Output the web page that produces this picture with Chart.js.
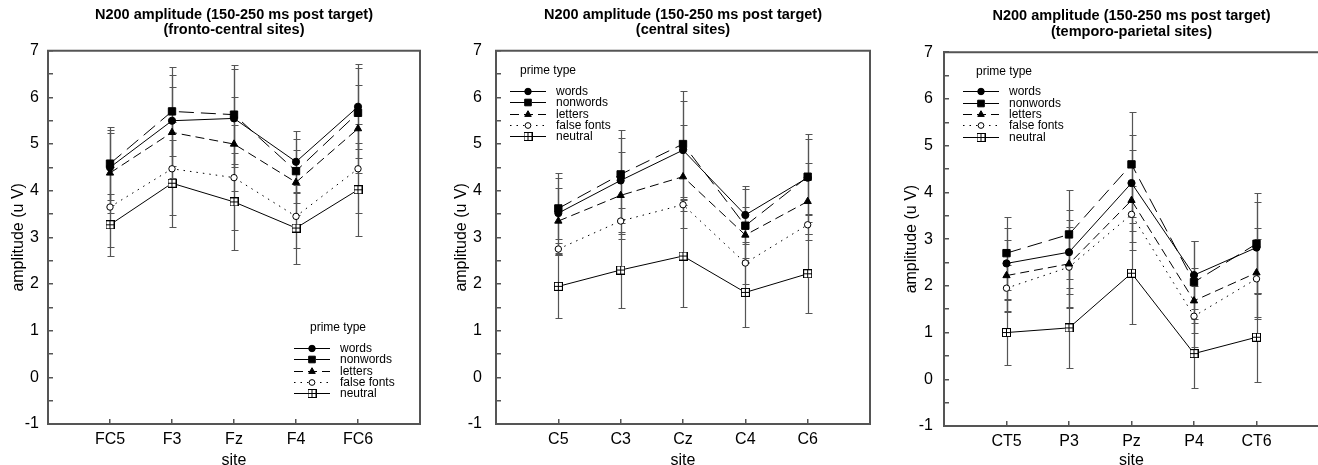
<!doctype html>
<html lang="en">
<head>
<meta charset="utf-8">
<title>N200 amplitude</title>
<script src="https://cdn.jsdelivr.net/npm/chart.js"></script>
<style>
    html, body { margin: 0; padding: 0; background: #fff; overflow: hidden; }
    .panel { position: absolute; top: 0; }
</style>
</head>
<body>
<canvas id="chartFC" class="panel" style="left:0px" width="440" height="465"></canvas>
<canvas id="chartC" class="panel" style="left:440px" width="438" height="465"></canvas>
<canvas id="chartTP" class="panel" style="left:878px" width="460" height="465"></canvas>
<script>
// series order: words, nonwords, letters, false fonts, neutral
const seriesNames = ['words', 'nonwords', 'letters', 'false fonts', 'neutral'];

// fronto-central sites
const fcSites = ['FC5', 'F3', 'Fz', 'F4', 'FC6'];
const fcWords = [4.50, 5.50, 5.55, 4.62, 5.80];
const fcNonwords = [4.58, 5.70, 5.63, 4.42, 5.67];
const fcLetters = [4.38, 5.25, 5.00, 4.18, 5.33];
const fcFalseFonts = [3.65, 4.47, 4.28, 3.45, 4.47];
const fcNeutral = [3.27, 4.16, 3.76, 3.20, 4.02];
const fcWordsErr = [0.80, 0.97, 1.05, 0.67, 0.91];
const fcNonwordsErr = [0.78, 0.96, 1.06, 0.68, 0.96];
const fcLettersErr = [0.85, 0.97, 1.00, 0.70, 0.94];
const fcFalseFontsErr = [0.85, 1.00, 1.12, 0.68, 0.95];
const fcNeutralErr = [0.67, 0.93, 1.04, 0.77, 1.00];

// central sites
const cSites = ['C5', 'C3', 'Cz', 'C4', 'C6'];
const cWords = [3.52, 4.22, 4.87, 3.48, 4.28];
const cNonwords = [3.62, 4.35, 5.00, 3.25, 4.30];
const cLetters = [3.35, 3.90, 4.30, 3.05, 3.77];
const cFalseFonts = [2.75, 3.35, 3.70, 2.45, 3.27];
const cNeutral = [1.95, 2.30, 2.60, 1.82, 2.22];
const cWordsErr = [0.85, 0.92, 1.06, 0.63, 0.94];
const cNonwordsErr = [0.65, 0.95, 1.13, 0.78, 0.80];
const cLettersErr = [0.70, 0.94, 1.10, 0.60, 0.83];
const cFalseFontsErr = [0.12, 0.28, 0.13, 0.45, 0.20];
const cNeutralErr = [0.67, 0.82, 1.09, 0.74, 0.85];

// temporo-parietal sites
const tpSites = ['CT5', 'P3', 'Pz', 'P4', 'CT6'];
const tpWords = [2.48, 2.72, 4.20, 2.23, 2.82];
const tpNonwords = [2.70, 3.10, 4.60, 2.08, 2.90];
const tpLetters = [2.22, 2.47, 3.83, 1.68, 2.28];
const tpFalseFonts = [1.95, 2.40, 3.53, 1.35, 2.15];
const tpNeutral = [1.00, 1.10, 2.27, 0.55, 0.90];
const tpWordsErr = [0.76, 0.90, 1.02, 0.72, 0.98];
const tpNonwordsErr = [0.78, 0.95, 1.13, 0.88, 1.08];
const tpLettersErr = [0.76, 0.94, 1.07, 0.70, 0.95];
const tpFalseFontsErr = [0.50, 0.85, 0.60, 0.65, 0.85];
const tpNeutralErr = [0.70, 0.85, 1.08, 0.73, 0.95];

const FONT = '"Liberation Sans", Arial, Helvetica, sans-serif';
const AXIS = '#555';

// square with a cross in it, for "neutral"
function boxPlus() {
    const c = document.createElement('canvas');
    c.width = 9; c.height = 9;
    const g = c.getContext('2d');
    g.fillStyle = '#fff';
    g.fillRect(0, 0, 9, 9);
    g.strokeStyle = '#000';
    g.lineWidth = 1;
    g.strokeRect(0.5, 0.5, 8, 8);
    g.beginPath();
    g.moveTo(4.5, 0.5); g.lineTo(4.5, 8.5);
    g.moveTo(0.5, 4.5); g.lineTo(8.5, 4.5);
    g.stroke();
    return c;
}

const dashes = [[], [15, 7], [9, 5], [1.5, 5], []];
const markers = ['circle', 'rect', 'triangle', 'circle', boxPlus()];
const radii = [3.6, 5.2, 4.2, 3.2, 4.5];
const fills = ['#000', '#000', '#000', '#fff', '#fff'];

// box round the plot area
const frame = {
    id: 'frame',
    beforeDatasetsDraw(chart) {
        const { ctx, chartArea: a } = chart;
        ctx.save();
        ctx.strokeStyle = AXIS;
        ctx.lineWidth = 2;
        ctx.strokeRect(a.left, a.top, a.right - a.left, a.bottom - a.top);
        ctx.restore();
    }
};

// vertical error bars with caps
const errorBars = {
    id: 'errorBars',
    beforeDatasetsDraw(chart) {
        const { ctx, scales: { y } } = chart;
        ctx.save();
        ctx.strokeStyle = '#555';
        ctx.lineWidth = 1.2;
        chart.data.datasets.forEach((ds, di) => {
            const meta = chart.getDatasetMeta(di);
            ds.data.forEach((p, i) => {
                const e = ds.errors[i];
                const px = Math.round(meta.data[i].x) + 0.5;
                const top = Math.round(y.getPixelForValue(p.y + e)) + 0.5;
                const bot = Math.round(y.getPixelForValue(p.y - e)) + 0.5;
                ctx.beginPath();
                ctx.moveTo(px, top); ctx.lineTo(px, bot);
                ctx.moveTo(px - 3, top); ctx.lineTo(px + 4, top);
                ctx.moveTo(px - 3, bot); ctx.lineTo(px + 4, bot);
                ctx.stroke();
            });
        });
        ctx.restore();
    }
};

// "prime type" legend with line samples
const primeLegend = {
    id: 'primeLegend',
    afterDatasetsDraw(chart, args, opts) {
        const { ctx, chartArea: a } = chart;
        const x0 = a.left + opts.dx, y0 = a.top + opts.dy;
        ctx.save();
        ctx.font = '12px ' + FONT;
        ctx.textBaseline = 'middle';
        ctx.fillStyle = '#000';
        ctx.fillText('prime type', x0 + opts.titleDx, y0 - 20);
        chart.data.datasets.forEach((ds, i) => {
            const yy = Math.round(y0 + i * 11.4) + 0.5;
            ctx.strokeStyle = '#000';
            ctx.lineWidth = 1;
            ctx.setLineDash(ds.borderDash);
            ctx.beginPath();
            ctx.moveTo(x0, yy); ctx.lineTo(x0 + 36, yy);
            ctx.stroke();
            ctx.setLineDash([]);
            ctx.fillStyle = ds.pointBackgroundColor;
            Chart.helpers.drawPoint(ctx, {
                pointStyle: ds.pointStyle, radius: ds.pointRadius * 0.9, rotation: 0, borderWidth: 1
            }, x0 + 18, yy);
            ctx.fillStyle = '#000';
            ctx.fillText(ds.label, x0 + 46, yy);
        });
        ctx.restore();
    }
};

function makePanel(id, subtitle, sites, values, errors, lay) {
    new Chart(document.getElementById(id), {
        type: 'line',
        data: {
            datasets: seriesNames.map((name, k) => ({
                label: name,
                data: values[k].map((v, i) => ({ x: i + 1, y: v })),
                errors: errors[k],
                borderColor: '#000',
                borderWidth: 1,
                borderDash: dashes[k],
                pointStyle: markers[k],
                pointRadius: radii[k],
                pointBackgroundColor: fills[k],
                pointBorderColor: '#000',
                pointBorderWidth: 1,
                tension: 0,
                fill: false
            }))
        },
        options: {
            responsive: false,
            animation: false,
            events: [],
            layout: { padding: { left: 0, right: lay.right, top: 0, bottom: 0 } },
            plugins: {
                legend: { display: false },
                tooltip: { enabled: false },
                title: {
                    display: true,
                    fullSize: false,
                    text: ['N200 amplitude (150-250 ms post target)', subtitle],
                    color: '#000',
                    font: { family: FONT, size: 14.5, weight: 'bold', lineHeight: 1.06 },
                    padding: { top: lay.titleTop, bottom: lay.titleBottom }
                },
                primeLegend: { dx: lay.legX, dy: lay.legY, titleDx: lay.legTitleDx }
            },
            scales: {
                x: {
                    type: 'linear',
                    min: 0,
                    max: 6,
                    afterBuildTicks: s => { s.ticks = s.ticks.filter(t => t.value >= 1 && t.value <= 5); },
                    afterFit: s => { s.height = lay.xh; },
                    ticks: {
                        stepSize: 1,
                        color: '#000',
                        font: { family: FONT, size: 16 },
                        padding: 11,
                        callback: v => sites[v - 1]
                    },
                    grid: { drawOnChartArea: false, tickLength: -5, color: AXIS, lineWidth: 1.5 },
                    border: { color: AXIS, width: 2 },
                    title: {
                        display: true,
                        text: 'site',
                        color: '#000',
                        font: { family: FONT, size: 16, lineHeight: 1 },
                        padding: { top: 0, bottom: -4 }
                    }
                },
                y: {
                    min: -1,
                    max: 7,
                    afterFit: s => { s.width = lay.yw; },
                    ticks: {
                        stepSize: 0.5,
                        autoSkip: false,
                        color: '#000',
                        font: { family: FONT, size: 16 },
                        padding: lay.yPad,
                        callback: v => Number.isInteger(v) ? String(v) : ''
                    },
                    grid: { drawOnChartArea: false, tickLength: -5, color: AXIS, lineWidth: 1.5 },
                    border: { color: AXIS, width: 2 },
                    title: {
                        display: true,
                        text: 'amplitude (u V)',
                        color: '#000',
                        font: { family: FONT, size: 16, lineHeight: 1 },
                        padding: { top: lay.yTitle, bottom: 0 }
                    }
                }
            }
        },
        plugins: [frame, errorBars, primeLegend]
    });
}

makePanel('chartFC', '(fronto-central sites)', fcSites,
    [fcWords, fcNonwords, fcLetters, fcFalseFonts, fcNeutral],
    [fcWordsErr, fcNonwordsErr, fcLettersErr, fcFalseFontsErr, fcNeutralErr],
    { right: 20, yw: 48, yPad: 14, yTitle: 11, xh: 41, titleTop: 7, titleBottom: 13,
      legX: 246, legY: 297, legTitleDx: 16 });

makePanel('chartC', '(central sites)', cSites,
    [cWords, cNonwords, cLetters, cFalseFonts, cNeutral],
    [cWordsErr, cNonwordsErr, cLettersErr, cFalseFontsErr, cNeutralErr],
    { right: 8, yw: 56, yPad: 19, yTitle: 14, xh: 41, titleTop: 7, titleBottom: 13,
      legX: 14, legY: 40, legTitleDx: 10 });

makePanel('chartTP', '(temporo-parietal sites)', tpSites,
    [tpWords, tpNonwords, tpLetters, tpFalseFonts, tpNeutral],
    [tpWordsErr, tpNonwordsErr, tpLettersErr, tpFalseFontsErr, tpNeutralErr],
    { right: 19, yw: 66, yPad: 16, yTitle: 26, xh: 39, titleTop: 8.5, titleBottom: 13,
      legX: 19, legY: 39, legTitleDx: 13 });
</script>
</body>
</html>
